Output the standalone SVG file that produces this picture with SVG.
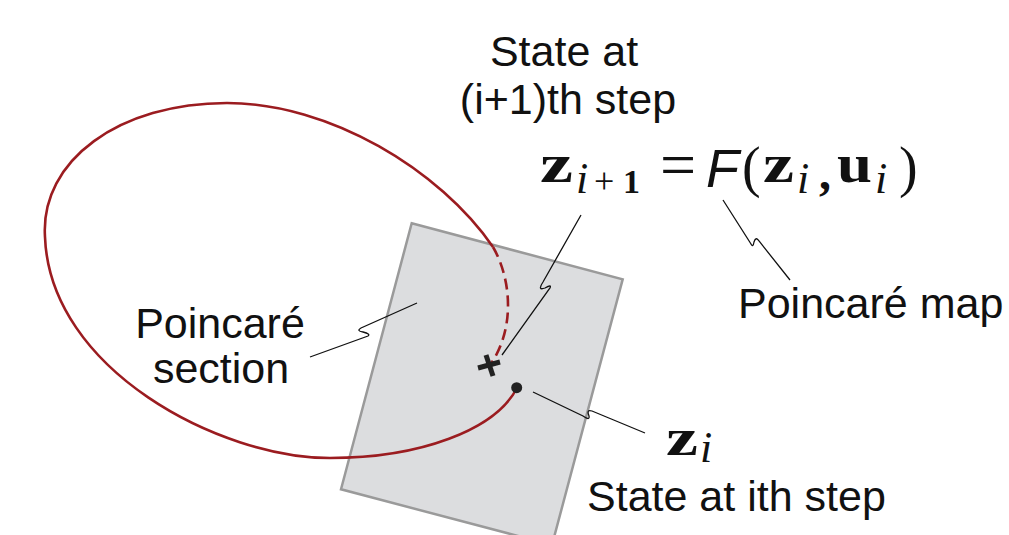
<svg xmlns="http://www.w3.org/2000/svg" width="1009" height="535" viewBox="0 0 1009 535">
<style>
.lbl{font-family:"Liberation Sans",Arial,sans-serif;font-size:43px;fill:#111}
.mb{font-family:"Liberation Serif","Times New Roman",serif;font-weight:bold;fill:#111}
.mi{font-family:"Liberation Serif","Times New Roman",serif;font-style:italic;fill:#111}
.mr{font-family:"Liberation Serif","Times New Roman",serif;fill:#111}
.lead{fill:none;stroke:#111;stroke-width:1.3}
.traj{fill:none;stroke:#9b1c20;stroke-width:2.6}
</style>
<rect width="1009" height="535" fill="#fff"/>
<g id="section">
<polygon points="411.7,223.3 622.7,279.3 552,545 341,489.3" fill="#dcdddf" stroke="#9a9a9a" stroke-width="2.5"/>
</g>
<g id="trajectory">
<path class="traj" d="M517,388 C495,430 420,458 330,458 C220,458 50,370 45,237 C40,160 120,103 227,103 C330,103 440,170 493,247"/>
<path class="traj" d="M493,247 C512,280 515,330 490,365" stroke-width="3" stroke-dasharray="11,6"/>
</g>
<g id="state-i1-marker">
<line x1="478" y1="368" x2="500" y2="362" stroke="#222" stroke-width="5"/>
<line x1="486" y1="355" x2="493" y2="376" stroke="#222" stroke-width="5"/>
</g>
<g id="state-i-marker">
<circle cx="516.7" cy="387.7" r="5.5" fill="#222"/>
</g>
<g id="connectors">
<path class="lead" d="M417,303 L361,328 Q356,331 363,332 Q371,334 368,336 L310,357"/>
<path class="lead" d="M581,215 L543,282 Q537,291 545,288 Q552,284 550,288 L502,355"/>
<path class="lead" d="M723,200 L751,244 Q753,248 754,242 Q756,236 759,241 L790,280"/>
<path class="lead" d="M533,392 L583,416 Q590,421 589,416 Q586,409 592,411 L645,433"/>
</g>
<g id="label-state-i1">
<text class="lbl" x="564" y="66" text-anchor="middle">State at</text>
<text class="lbl" x="568" y="114" text-anchor="middle">(i+1)th step</text>
</g>
<g id="equation">
<text class="mb" x="540" y="182" font-size="54" textLength="33" lengthAdjust="spacingAndGlyphs">z</text>
<text class="mi" x="576" y="193" font-size="44">i</text>
<text class="mr" x="594" y="193" font-size="36">+</text>
<text class="mr" x="623" y="193" font-size="34" font-weight="bold">1</text>
<text class="mr" x="660" y="186" font-size="64">=</text>
<text x="706" y="187" font-family="Liberation Sans,Arial,sans-serif" font-style="italic" font-size="54" fill="#111">F</text>
<text class="mr" x="742" y="186" font-size="56">(</text>
<text class="mb" x="763" y="182" font-size="54" textLength="31" lengthAdjust="spacingAndGlyphs">z</text>
<text class="mi" x="797" y="193" font-size="44">i</text>
<text class="mb" x="819" y="189" font-size="48">,</text>
<text class="mb" x="837" y="182" font-size="54" textLength="35" lengthAdjust="spacingAndGlyphs">u</text>
<text class="mi" x="875" y="193" font-size="44">i</text>
<text class="mr" x="899" y="186" font-size="56">)</text>
</g>
<g id="label-map">
<text class="lbl" x="738" y="318">Poincaré map</text>
</g>
<g id="label-section">
<text class="lbl" x="220" y="338" text-anchor="middle">Poincaré</text>
<text class="lbl" x="221" y="383" text-anchor="middle">section</text>
</g>
<g id="label-state-i">
<text class="mb" x="666" y="455" font-size="52" textLength="32" lengthAdjust="spacingAndGlyphs">z</text>
<text class="mi" x="700" y="462" font-size="44">i</text>
<text class="lbl" x="587" y="511">State at ith step</text>
</g>
</svg>
